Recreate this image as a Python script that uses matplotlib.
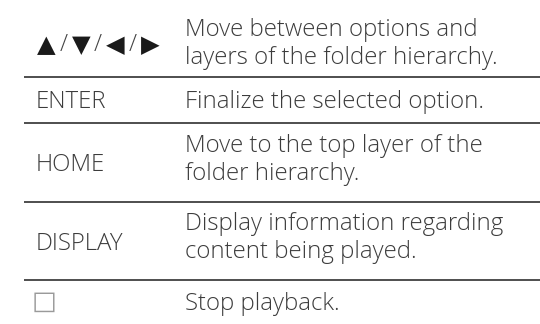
import matplotlib
matplotlib.use("Agg")
import matplotlib.pyplot as plt

# table contents
keys = ["▲/▼/◀/▶", "ENTER", "HOME", "DISPLAY", "□"]
descriptions = [
    "Move between options and\nlayers of the folder hierarchy.",
    "Finalize the selected option.",
    "Move to the top layer of the\nfolder hierarchy.",
    "Display information regarding\ncontent being played.",
    "Stop playback.",
]
row_edges = [8, 77, 123, 202, 280, 324]

text_color = "#3c3c3c"
font = ["Open Sans", "DejaVu Sans"]
fs = 17.3
gap = 28.5

fig = plt.figure(figsize=(5.4, 3.24), dpi=100)
ax = fig.add_axes([0, 0, 1, 1])
ax.set_xlim(0, 540)
ax.set_ylim(324, 0)
ax.axis("off")

for i in range(len(keys)):
    top = row_edges[i]
    bottom = row_edges[i + 1]
    mid = (top + bottom) / 2
    if i == 0:
        # arrow keys drawn glyph by glyph so the slashes sit between them
        arrows = keys[i].split("/")
        for k, a in enumerate(arrows):
            ax.text(46.5 + k * 34.5, 45, a, fontsize=17.5, color="#1a1a1a",
                    va="center", ha="center", family=["DejaVu Sans"])
            if k < len(arrows) - 1:
                ax.text(63.5 + k * 34.5, 45, "/", fontsize=17, color="#444444",
                        va="center", ha="center", family=font, fontweight="light")
    elif i == len(keys) - 1:
        ax.text(44, 302, keys[i], fontsize=19, color="#9a9a9a", va="center",
                ha="center", family=["DejaVu Sans"])
    else:
        ax.text(36, mid + 8.5, keys[i], fontsize=fs, color=text_color,
                va="baseline", ha="left", family=font, fontweight="light")
    lines = descriptions[i].split("\n")
    if i == 0:
        y0 = 36
    elif i == len(keys) - 1:
        y0 = 310
    elif len(lines) == 1:
        y0 = mid + 8.5
    else:
        y0 = mid - 11
    for j, line in enumerate(lines):
        ax.text(185, y0 + j * gap, line, fontsize=fs, color=text_color,
                va="baseline", ha="left", family=font, fontweight="light")

# separators between rows
for y in row_edges[1:-1]:
    ax.plot([24, 540], [y, y], color="#1e1e1e", linewidth=1.1, solid_capstyle="butt")

fig.savefig("out.png", dpi=100)
